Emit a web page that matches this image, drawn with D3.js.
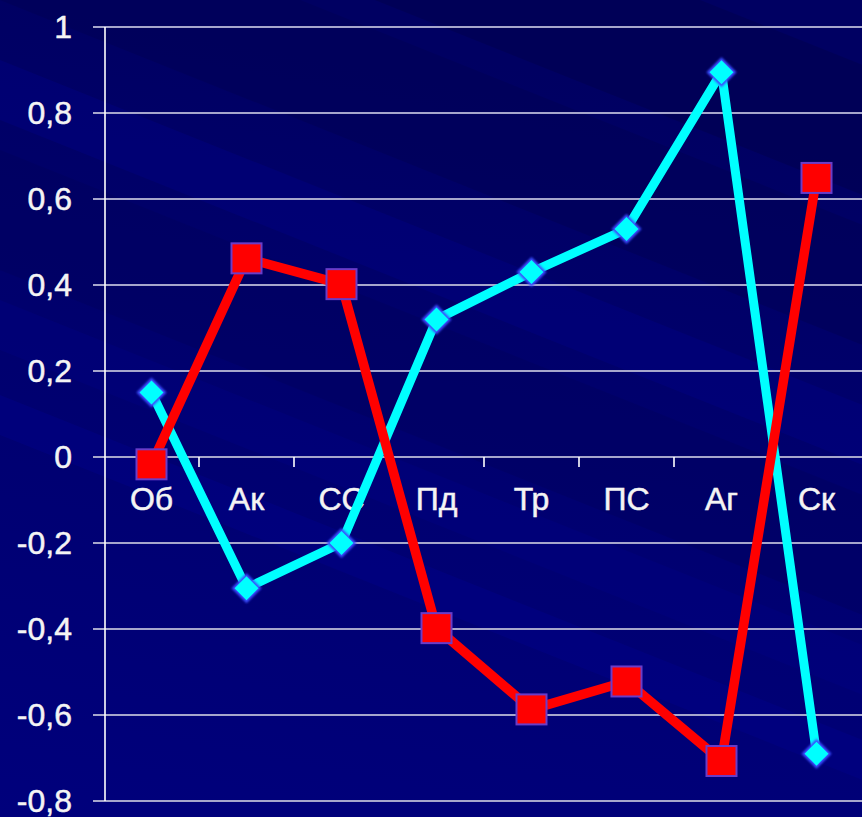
<!DOCTYPE html>
<html>
<head>
<meta charset="utf-8">
<script src="https://cdn.jsdelivr.net/npm/d3@7/dist/d3.min.js"></script>
<style>
html,body{margin:0;padding:0;background:#000070;}
svg{display:block;}
</style>
</head>
<body>
<script>
const categories = ["Об","Ак","СС","Пд","Тр","ПС","Аг","Ск"];
const cyanValues = [0.15, -0.305, -0.2, 0.32, 0.43, 0.53, 0.895, -0.69];
const redValues  = [-0.017, 0.462, 0.402, -0.398, -0.587, -0.522, -0.707, 0.649];
const yTicks = [-0.8,-0.6,-0.4,-0.2,0,0.2,0.4,0.6,0.8,1];

const W = 862, H = 817;
const svg = d3.select("body").append("svg").attr("width", W).attr("height", H);

// background
const defs = svg.append("defs");
const g1 = defs.append("linearGradient").attr("id","bg").attr("x1","0.2").attr("y1","0").attr("x2","0").attr("y2","1");
g1.append("stop").attr("offset","0").attr("stop-color","#000062");
g1.append("stop").attr("offset","0.5").attr("stop-color","#000070");
g1.append("stop").attr("offset","1").attr("stop-color","#00007c");
svg.append("rect").attr("width",W).attr("height",H).attr("fill","url(#bg)");

const bands = [
  {y0:-280, w:130, c:"#000050", o:0.6},
  {y0:-120, w:120, c:"#000054", o:0.5},
  {y0:60,   w:60,  c:"#00008a", o:0.35},
  {y0:150,  w:120, c:"#000058", o:0.35},
  {y0:300,  w:50,  c:"#000088", o:0.3},
  {y0:395,  w:40,  c:"#00008c", o:0.4}
];
const slope = 0.4;
svg.append("g").selectAll("path").data(bands).join("path")
  .attr("d", d => `M0,${d.y0} L${W},${d.y0+slope*W} L${W},${d.y0+d.w+slope*W} L0,${d.y0+d.w} Z`)
  .attr("fill", d => d.c).attr("opacity", d => d.o);

const y = d3.scaleLinear().domain([-0.8, 1]).range([801, 27]);
const x = d3.scaleBand().domain(categories).range([104, 864]).padding(0);
const cx = c => x(c) + x.bandwidth()/2;

// gridlines
svg.append("g").selectAll("line").data(yTicks).join("line")
  .attr("x1", 93).attr("x2", W)
  .attr("y1", d => y(d)).attr("y2", d => y(d))
  .attr("stroke", "#a6a6cc").attr("stroke-width", 2);

// y axis line
svg.append("line").attr("x1",105).attr("x2",105).attr("y1",y(1)).attr("y2",y(-0.8))
  .attr("stroke","#ffffff").attr("stroke-width",1.6);

// x tick marks at band boundaries
svg.append("g").selectAll("line").data(categories.slice(1)).join("line")
  .attr("x1", d => x(d)).attr("x2", d => x(d))
  .attr("y1", y(0)).attr("y2", y(0) + 10)
  .attr("stroke","#ffffff").attr("stroke-width",1.6);

const textStyle = sel => sel
  .attr("font-family","'Liberation Sans', Arial, sans-serif")
  .attr("font-size", 32)
  .attr("fill","#f4f4f4")
  .attr("stroke","#f4f4f4").attr("stroke-width",0.5);

// y labels
svg.append("g").selectAll("text").data(yTicks).join("text")
  .attr("x", 72).attr("y", d => y(d))
  .attr("dy", "0.33em")
  .attr("text-anchor","end")
  .call(textStyle)
  .text(d => d3.format(".1f")(d).replace(".", ",").replace(/,0$/, "").replace("−","-"));

// x labels
svg.append("g").selectAll("text").data(categories).join("text")
  .attr("x", d => cx(d)).attr("y", 510)
  .attr("text-anchor","middle")
  .call(textStyle)
  .text(d => d);

const line = d3.line().x((d,i) => cx(categories[i])).y(d => y(d));

const glow = defs.append("filter").attr("id","glow").attr("x","-50%").attr("y","-50%").attr("width","200%").attr("height","200%");
glow.append("feGaussianBlur").attr("stdDeviation",1.2);

// cyan line
svg.append("path").datum(cyanValues).attr("d", line)
  .attr("fill","none").attr("stroke","#00ffff").attr("stroke-width",9).attr("stroke-linejoin","round");
// red line
svg.append("path").datum(redValues).attr("d", line)
  .attr("fill","none").attr("stroke","#ff0000").attr("stroke-width",9.5).attr("stroke-linejoin","round");

// cyan diamonds
const ds = 14;
const cg = svg.append("g").selectAll("g").data(cyanValues).join("g")
  .attr("transform", (d,i) => `translate(${cx(categories[i])},${y(d)})`);
cg.append("path").attr("d", `M0,${-ds-1} L${ds+1},0 L0,${ds+1} L${-ds-1},0 Z`)
  .attr("fill","#3a4cff").attr("filter","url(#glow)");
cg.append("path").attr("d", `M0,${-ds+2} L${ds-2},0 L0,${ds-2} L${-ds+2},0 Z`)
  .attr("fill","#00ffff");

// red squares
const s = 30;
svg.append("g").selectAll("rect").data(redValues).join("rect")
  .attr("x", (d,i) => cx(categories[i]) - s/2)
  .attr("y", d => y(d) - s/2)
  .attr("width", s).attr("height", s)
  .attr("fill","#ff0000").attr("stroke","#6a3cc8").attr("stroke-width",2);
</script>
</body>
</html>
